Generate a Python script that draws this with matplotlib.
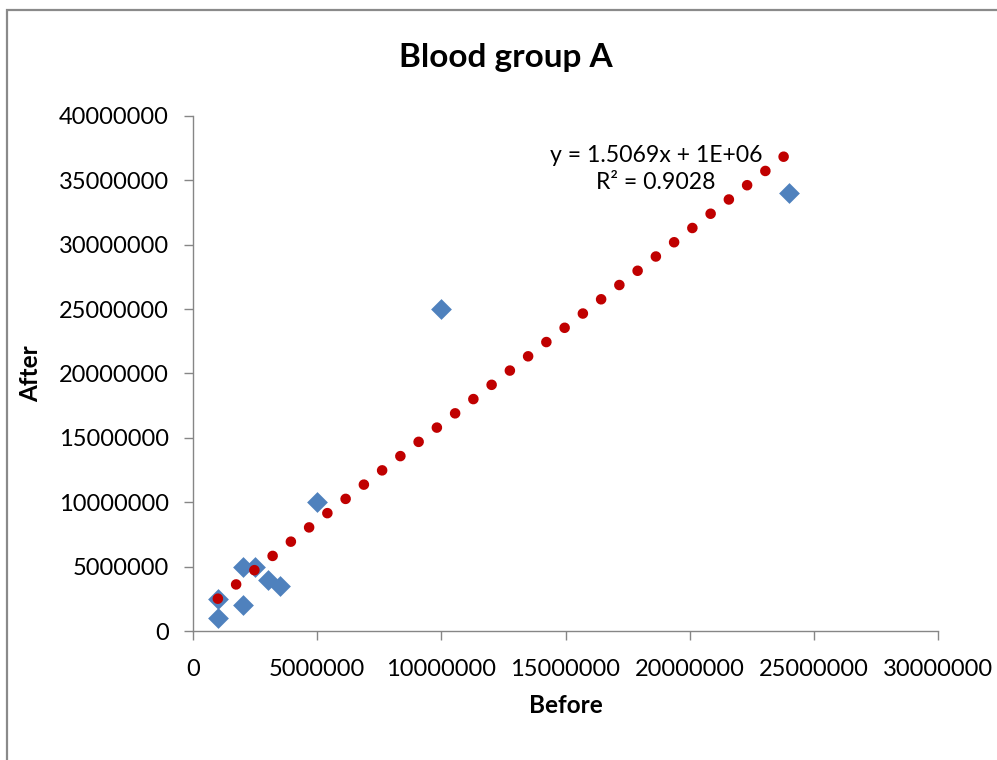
import numpy as np
import matplotlib.pyplot as plt
from matplotlib.patches import Rectangle
from matplotlib.ticker import FuncFormatter

plt.rcParams['font.family'] = ['Lato', 'DejaVu Sans']

# blood group A, counts before / after
before = [1000000, 1000000, 2000000, 2000000, 2500000, 3000000, 3500000,
          5000000, 10000000, 24000000]
after = [2500000, 1000000, 5000000, 2000000, 5000000, 4000000, 3500000,
         10000000, 25000000, 34000000]

# linear trendline as shown on the chart
slope = 1.5069
intercept = 1e6
r2 = 0.9028

x_ticks = [0, 5000000, 10000000, 15000000, 20000000, 25000000, 30000000]
y_ticks = [0, 5000000, 10000000, 15000000, 20000000, 25000000, 30000000,
           35000000, 40000000]

fig = plt.figure(figsize=(9.97, 7.6), dpi=100)
ax = fig.add_axes([193/997, 1 - 631/760, (938-193)/997, (631-116)/760])

# chart area outline
fig.patches.append(Rectangle((7/997, -0.05), 1.2, 1.05 - 10/760,
                             transform=fig.transFigure, fill=False,
                             edgecolor='#8a8a8a', lw=1.6, clip_on=False))

ax.scatter(before, after, marker='D', s=112, color='#4F81BD',
           linewidths=0, zorder=3)

xt = np.array([min(before), max(before)])
ax.plot(xt, slope * xt + intercept, color='#C00000', lw=7.6,
        linestyle=(0, (0.01, 2.184)), dash_capstyle='round', zorder=4)

ax.text(18650000, 36970000, f"y = {slope}x + 1E+06", ha='center', va='center',
        fontsize=16.6)
ax.text(18650000, 34800000, f"R² = {r2}", ha='center', va='center',
        fontsize=16.6)

ax.set_xlim(0, 30000000)
ax.set_ylim(0, 40000000)
ax.set_xticks(x_ticks)
ax.set_yticks(y_ticks)
fmt = FuncFormatter(lambda v, p: f"{v:.0f}")
ax.xaxis.set_major_formatter(fmt)
ax.yaxis.set_major_formatter(fmt)

for s in ['top', 'right']:
    ax.spines[s].set_visible(False)
for s in ['left', 'bottom']:
    ax.spines[s].set_color('#868686')
    ax.spines[s].set_linewidth(1.0)
ax.tick_params(direction='out', length=6.5, width=1.0, color='#868686',
               labelsize=17)
ax.tick_params(axis='y', pad=11)
ax.tick_params(axis='x', pad=14)

ax.set_xlabel("Before", fontsize=17.5, fontweight='bold', labelpad=10)
ax.set_ylabel("After", fontsize=17.5, fontweight='bold', labelpad=12)
fig.text(506/997, 1 - 57/760, "Blood group A", ha='center', va='center',
         fontsize=24, fontweight='bold')

fig.savefig("out.png", dpi=100)
